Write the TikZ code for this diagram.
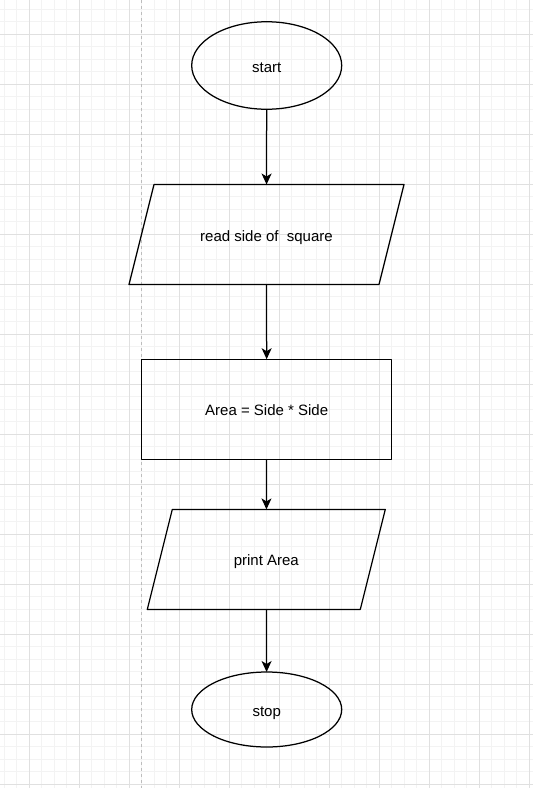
\documentclass[tikz,border=0pt]{standalone}
\usepackage{fontspec}
\setmainfont{Liberation Sans}
\usetikzlibrary{shapes.geometric,arrows.meta}
\definecolor{gridmajor}{HTML}{E0E0E0}
\definecolor{gridminor}{HTML}{F3F3F3}
\definecolor{pageline}{HTML}{BDBDBD}
\begin{document}
\begin{tikzpicture}[x=1pt, y=-1pt, font=\fontsize{15}{18}\selectfont, line join=round,
	>={Stealth[length=11pt,width=10pt,inset=3pt]},
	box/.style={inner sep=0pt, outer sep=0pt, text height=13pt, text depth=0pt},
	term/.style={box, ellipse, draw, line width=1.25pt, minimum width=150pt},
	io/.style={box, rectangle, minimum width=#1, minimum height=100pt},
	proc/.style={box, rectangle, draw, line width=1.25pt, minimum width=250pt, minimum height=100pt},
	flow/.style={->, line width=1.25pt}]
	\useasboundingbox (0,0) rectangle (533,788);
	\fill[white] (0,0) rectangle (533,788);
	% grid
	\foreach \k in {0,...,42} \draw[gridminor, line width=1pt] ({4.2+12.5*\k},0)--({4.2+12.5*\k},788);
	\foreach \k in {0,...,62} \draw[gridminor, line width=1pt] (0,{9.3+12.5*\k})--(533,{9.3+12.5*\k});
	\foreach \k in {0,...,10} \draw[gridmajor, line width=1pt] ({29.2+50*\k},0)--({29.2+50*\k},788);
	\foreach \k in {0,...,15} \draw[gridmajor, line width=1pt] (0,{34.3+50*\k})--(533,{34.3+50*\k});
	\draw[pageline, dash pattern=on 3pt off 3pt, line width=1pt] (141.7,0)--(141.7,788);
	% flowchart
	\node[term, minimum height=87.5pt] (start) at (266.7,65.5) {start};
	\node[io=250pt] (read) at (266.5,234.5) {read side of\ \ square};
	\node[proc] (area) at (266.7,409.2) {Area = Side * Side};
	\node[io=213pt] (print) at (266.3,559.4) {print Area};
	\node[term, minimum height=75pt] (stop) at (266.7,709.5) {stop};
	% parallelograms round the io boxes
	\foreach \n in {read,print}
		\draw[line width=1.25pt] ([xshift=-12.5pt]\n.south west)--([xshift=12.5pt]\n.north west)
			--([xshift=12.5pt]\n.north east)--([xshift=-12.5pt]\n.south east)--cycle;
	\draw[flow] (start)--(read);
	\draw[flow] (read)--(area);
	\draw[flow] (area)--(print);
	\draw[flow] (print)--(stop);
\end{tikzpicture}
\end{document}
